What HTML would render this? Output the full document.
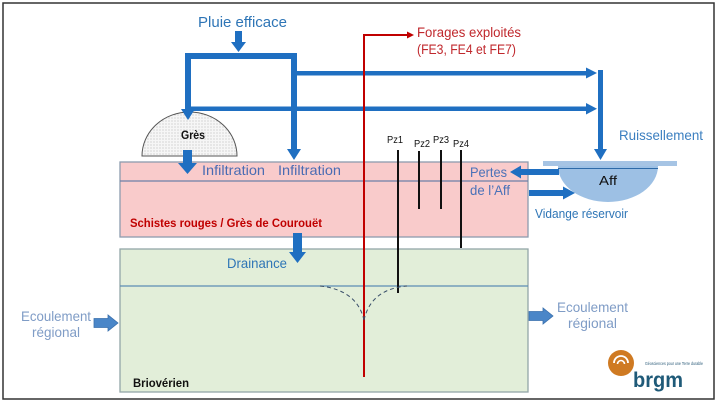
<!DOCTYPE html>
<html><head><meta charset="utf-8"><style>
html,body{margin:0;padding:0;background:#fff;}
svg{display:block;}
text{font-family:"Liberation Sans",sans-serif;}
</style></head><body>
<svg width="720" height="402" viewBox="0 0 720 402" xmlns="http://www.w3.org/2000/svg">
<defs>
<pattern id="dots" width="3" height="3" patternUnits="userSpaceOnUse">
<rect width="3" height="3" fill="#f6f6f6"/>
<circle cx="1" cy="1" r="0.45" fill="#999"/>
</pattern>
</defs>
<rect x="0" y="0" width="720" height="402" fill="#fff"/>
<rect x="3" y="3" width="711" height="396" fill="none" stroke="#333" stroke-width="1.5"/>

<!-- Pink layer -->
<rect x="120" y="162" width="408" height="75" fill="#f9cbcb" stroke="#8d9cae" stroke-width="1.3"/>
<line x1="120" y1="181" x2="528" y2="181" stroke="#6d80a8" stroke-width="1.2"/>
<!-- Green layer -->
<rect x="120" y="249" width="408" height="143" fill="#e2eed9" stroke="#93a6a8" stroke-width="1.3"/>
<line x1="120" y1="286" x2="528" y2="286" stroke="#5b8db5" stroke-width="1.3"/>

<!-- Grès dome -->
<path d="M142,156 A47.5,44 0 0 1 237,156 Z" fill="url(#dots)" stroke="#555" stroke-width="1"/>
<text x="181" y="139" font-size="12" font-weight="bold" fill="#111" textLength="24" lengthAdjust="spacingAndGlyphs">Grès</text>

<!-- Pluie efficace -->
<text x="198" y="27" font-size="15" fill="#2e75b6" textLength="89" lengthAdjust="spacingAndGlyphs">Pluie efficace</text>
<path d="M235,31 H242 V42 H246 L238.5,52 L231,42 H235 Z" fill="#1f6fc1"/>

<!-- Thick distribution network -->
<rect x="185" y="53" width="112" height="6" fill="#1f6fc1"/>
<rect x="185" y="53" width="6" height="57" fill="#1f6fc1"/>
<path d="M181,109 H195 L188,120 Z" fill="#1f6fc1"/>
<rect x="291" y="53" width="6" height="97" fill="#1f6fc1"/>
<path d="M287,149 H301 L294,160 Z" fill="#1f6fc1"/>
<rect x="297" y="71" width="290" height="4.5" fill="#1f6fc1"/>
<path d="M586,67.5 L597,73 L586,78.5 Z" fill="#1f6fc1"/>
<rect x="191" y="106.5" width="396" height="4.5" fill="#1f6fc1"/>
<path d="M586,103 L597,108.7 L586,114.5 Z" fill="#1f6fc1"/>
<rect x="598" y="70" width="5" height="80" fill="#1f6fc1"/>
<path d="M594,149 H607 L600.5,160 Z" fill="#1f6fc1"/>

<!-- Grès infiltration arrow -->
<path d="M183,150 H192 V163 H197 L187.5,174 L178,163 H183 Z" fill="#1f6fc1"/>
<text x="202" y="175" font-size="14" fill="#4a6cb3" textLength="63" lengthAdjust="spacingAndGlyphs">Infiltration</text>
<text x="278" y="175" font-size="14" fill="#4a6cb3" textLength="63" lengthAdjust="spacingAndGlyphs">Infiltration</text>

<!-- Ruissellement / Aff -->
<text x="619" y="140" font-size="14" fill="#3b7fc0" textLength="84" lengthAdjust="spacingAndGlyphs">Ruissellement</text>
<rect x="543" y="161" width="134" height="5" fill="#a6c4e4"/>
<path d="M558,166 H658 A50,36 0 0 1 558,166 Z" fill="#9dc0e4"/>
<line x1="558" y1="168.5" x2="658" y2="168.5" stroke="#2d6aa8" stroke-width="1"/>
<text x="599" y="185" font-size="13" fill="#111" textLength="18" lengthAdjust="spacingAndGlyphs">Aff</text>

<!-- Pertes arrow -->
<rect x="519" y="169" width="40" height="6" fill="#1f6fc1"/>
<path d="M521,165.5 L510,172 L521,178.5 Z" fill="#1f6fc1"/>
<text x="470" y="177" font-size="14" fill="#4a72b8" textLength="37" lengthAdjust="spacingAndGlyphs">Pertes</text>
<text x="470" y="195" font-size="14" fill="#4a72b8" textLength="40" lengthAdjust="spacingAndGlyphs">de l’Aff</text>
<!-- Vidange arrow -->
<rect x="529" y="190" width="35" height="6" fill="#1f6fc1"/>
<path d="M563,186.5 L575,193 L563,199.5 Z" fill="#1f6fc1"/>
<text x="535" y="218" font-size="12.5" fill="#2e75b6" textLength="93" lengthAdjust="spacingAndGlyphs">Vidange réservoir</text>

<!-- Red borehole -->
<polyline points="364,377 364,35 408,35" fill="none" stroke="#c00000" stroke-width="2"/>
<path d="M407,31.5 L414,35 L407,38.5 Z" fill="#c00000"/>
<text x="417" y="37" font-size="13.5" fill="#c0282d" textLength="104" lengthAdjust="spacingAndGlyphs">Forages exploités</text>
<text x="417" y="54" font-size="13.5" fill="#c0282d" textLength="99" lengthAdjust="spacingAndGlyphs">(FE3, FE4 et FE7)</text>

<!-- Piezometers -->
<line x1="398" y1="150" x2="398" y2="293" stroke="#111" stroke-width="2"/>
<line x1="419" y1="151" x2="419" y2="209" stroke="#111" stroke-width="2"/>
<line x1="441" y1="150" x2="441" y2="209" stroke="#111" stroke-width="2"/>
<line x1="461" y1="150" x2="461" y2="248" stroke="#111" stroke-width="2"/>
<text x="387" y="143" font-size="10" fill="#111" textLength="16" lengthAdjust="spacingAndGlyphs">Pz1</text>
<text x="414" y="147" font-size="10" fill="#111" textLength="16" lengthAdjust="spacingAndGlyphs">Pz2</text>
<text x="433" y="143" font-size="10" fill="#111" textLength="16" lengthAdjust="spacingAndGlyphs">Pz3</text>
<text x="453" y="147" font-size="10" fill="#111" textLength="16" lengthAdjust="spacingAndGlyphs">Pz4</text>

<!-- Cone of depression -->
<path d="M320,286 Q357,290 364,320 M364,320 Q371,289 407,286" fill="none" stroke="#3a4f6a" stroke-width="1" stroke-dasharray="4,3"/>

<!-- Schistes label -->
<text x="130" y="227" font-size="12" font-weight="bold" fill="#c00000" textLength="192" lengthAdjust="spacingAndGlyphs">Schistes rouges / Grès de Courouët</text>

<!-- Drainance -->
<path d="M293,233 H302 V252 H306 L297.5,263 L289,252 H293 Z" fill="#1f6fc1"/>
<text x="227" y="268" font-size="14" fill="#2e75b6" textLength="60" lengthAdjust="spacingAndGlyphs">Drainance</text>

<!-- Ecoulement régional left -->
<text x="21" y="321" font-size="14" fill="#7f9cc6" textLength="70" lengthAdjust="spacingAndGlyphs">Ecoulement</text>
<text x="32" y="337" font-size="14" fill="#7f9cc6" textLength="48" lengthAdjust="spacingAndGlyphs">régional</text>
<path d="M94,318.5 H108 V315 L118,323 L108,331 V327.5 H94 Z" fill="#4a86c8" stroke="#3a70ad" stroke-width="0.8"/>

<!-- Ecoulement régional right -->
<path d="M529,311.5 H543 V308 L553,316 L543,324 V320.5 H529 Z" fill="#4a86c8" stroke="#3a70ad" stroke-width="0.8"/>
<text x="557" y="312" font-size="14" fill="#7f9cc6" textLength="71" lengthAdjust="spacingAndGlyphs">Ecoulement</text>
<text x="568" y="328" font-size="14" fill="#7f9cc6" textLength="49" lengthAdjust="spacingAndGlyphs">régional</text>

<!-- Briovérien -->
<text x="133" y="387" font-size="11.5" font-weight="bold" fill="#111" textLength="56" lengthAdjust="spacingAndGlyphs">Briovérien</text>

<!-- brgm logo -->
<circle cx="621" cy="363" r="13" fill="#cf7a22"/>
<path d="M614,363 A7,7 0 0 1 628,363" fill="none" stroke="#fff" stroke-width="1.8"/>
<path d="M617.5,364 A3.5,3.5 0 0 1 624.5,364" fill="none" stroke="#fff" stroke-width="1.6"/>
<text x="645" y="365" font-size="4.5" fill="#2a5a78" textLength="58" lengthAdjust="spacingAndGlyphs">Géosciences pour une Terre durable</text>
<text x="633" y="387" font-size="21" font-weight="bold" fill="#1f5a78" textLength="50" lengthAdjust="spacingAndGlyphs">brgm</text>
</svg>
</body></html>
